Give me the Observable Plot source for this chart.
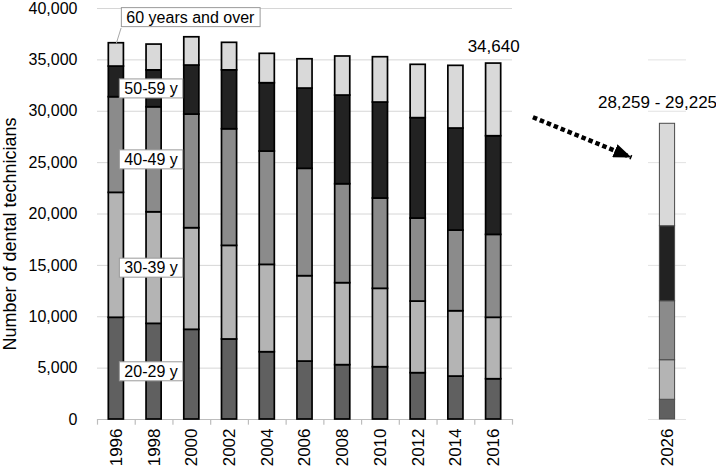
<!DOCTYPE html>
<html><head><meta charset="utf-8">
<script src="https://cdn.jsdelivr.net/npm/d3@7"></script>
<script src="https://cdn.jsdelivr.net/npm/@observablehq/plot@0.6"></script>
<style>
body{margin:0;background:#fff;}
#chart svg{font-family:"Liberation Sans",Arial,sans-serif;}
</style>
</head><body><div id="chart"></div>
<script>
// ---- data ----
const years = [1996, 1998, 2000, 2002, 2004, 2006, 2008, 2010, 2012, 2014, 2016];
const projectionYear = 2026;
const ageGroups = ["20-29 y", "30-39 y", "40-49 y", "50-59 y", "60 years and over"];
const age20to29 = [9900, 9310, 8730, 7790, 6550, 5640, 5290, 5090, 4510, 4180, 3920];
const age30to39 = [12160, 10860, 9890, 9110, 8500, 8310, 7980, 7630, 6970, 6360, 5980];
const age40to49 = [9310, 10220, 11060, 11350, 11030, 10450, 9630, 8790, 8080, 7850, 8070];
const age50to59 = [2980, 3590, 4770, 5730, 6650, 7810, 8630, 9340, 9770, 9930, 9600];
const age60plus = [2270, 2510, 2750, 2680, 2860, 2850, 3800, 4410, 5190, 6100, 7070];
const projection2026 = [1920, 3850, 5740, 7300, 9970];
const projectionLow = 28259;
const projectionHigh = 29225;
const yTicks = [0, 5000, 10000, 15000, 20000, 25000, 30000, 35000, 40000];
const grays = ["#606060", "#b4b4b4", "#8b8b8b", "#222222", "#d9d9d9"];

// ---- derived tables ----
const series = [age20to29, age30to39, age40to49, age50to59, age60plus];
const past = years.flatMap((year, i) => ageGroups.map((age, k) => ({year, age, value: series[k][i]})));
const future = ageGroups.map((age, k) => ({year: projectionYear, age, value: projection2026[k]}));
const totals = years.map((year, i) => ({year, total: d3.sum(series, s => s[i])}));
const lastYear = years[years.length - 1];
const lastTotal = totals[totals.length - 1];
const projTotal = {year: projectionYear, total: d3.sum(projection2026)};
const fmt = d3.format(",");

// label positions: middles of the 1998 segments
let cum = 0;
const ageLabels = ageGroups.slice(0, 4).map((age, k) => {
  const v = series[k][1]; const mid = cum + v / 2; cum += v; return {age, y: mid};
});
const topLabel = [{age: ageGroups[4], y: yTicks[yTicks.length - 1]}];

const half = 0.4;
const pastStart = years[0] - 1, pastEnd = lastYear + 1;
const projStart = projectionYear - 1, projEnd = projectionYear + 1;
const boundaries = years.map(y => y - 1).concat([pastEnd]);

const chart = Plot.plot({
  width: 716, height: 473,
  marginLeft: 97, marginRight: 30, marginTop: 8, marginBottom: 54,
  style: {fontFamily: "Liberation Sans, Arial, sans-serif", fontSize: "16px", color: "#000", background: "#fff"},
  x: {type: "linear", domain: [pastStart, pastEnd, projStart, projEnd], range: [97, 512, 648, 686], axis: null},
  y: {domain: [0, 40000], ticks: yTicks, tickFormat: fmt, tickSize: 0, tickPadding: 20, label: null},
  color: {domain: ageGroups, range: grays},
  marks: [
    Plot.ruleY(yTicks, {x1: () => pastStart, x2: () => pastEnd, stroke: "#d6d6d6", strokeWidth: 1}),
    Plot.ruleY(yTicks.filter(t => t < 40000), {x1: () => projStart, x2: () => projEnd, stroke: "#e2e2e2", strokeWidth: 1}),
    Plot.ruleY([0], {x1: () => pastStart, x2: () => pastEnd, stroke: "#bdbdbd", strokeWidth: 1.2}),
    Plot.ruleX(boundaries, {y1: () => 0, y2: () => -550, stroke: "#bdbdbd", strokeWidth: 1.2}),
    Plot.rectY(past, Plot.stackY({x1: d => d.year - half, x2: d => d.year + half, y: "value", fill: "age", stroke: "#000", strokeWidth: 1.7})),
    Plot.rectY(future, Plot.stackY({x1: d => d.year - half, x2: d => d.year + half, y: "value", fill: "age", stroke: "#4a4a4a", strokeWidth: 1})),
    // x tick labels
    Plot.text(years.concat([projectionYear]), {x: d => d, y: () => 0, text: d => String(d), rotate: -90, textAnchor: "end", dy: 9, fontSize: 17}),
    // y axis title
    Plot.text(["Number of dental technicians"], {frameAnchor: "left", text: d => d, rotate: -90, textAnchor: "middle", dx: -87, dy: 20, fontSize: 18}),
    // leader line for the top label
    Plot.link([totals[0]], {x1: "year", y1: "total", x2: d => d.year + 0.25, y2: () => 38100, stroke: "#a8a8a8", strokeWidth: 1}),
    // age labels
    Plot.text(ageLabels, {x: () => years[0], y: "y", text: "age", textAnchor: "start", dx: 8, fontSize: 16}),
    Plot.text(topLabel, {x: () => years[0], y: "y", text: "age", textAnchor: "start", dx: 10, dy: 9, fontSize: 16}),
    // totals
    Plot.text([lastTotal], {x: "year", y: "total", text: d => fmt(d.total), dy: -17, fontSize: 17}),
    Plot.text([projTotal], {x: "year", y: "total", text: () => `${fmt(projectionLow)} - ${fmt(projectionHigh)}`, dx: -10, dy: -21, fontSize: 17}),
    // dotted arrow
    Plot.link([{from: lastTotal, to: projTotal}], {
      x1: d => d.from.year + 2.2, y1: d => d.from.total - 5220,
      x2: d => d.to.year - 2, y2: d => d.to.total - 3280,
      stroke: "#000", strokeWidth: 4.5, strokeDasharray: "4.5,3"
    })
  ]
});
document.getElementById("chart").appendChild(chart);

// boxes behind the age labels
const svg = d3.select(chart);
const labelSet = new Set(ageGroups);
svg.selectAll("text").filter(function() { return labelSet.has(this.textContent); }).each(function() {
  const b = this.getBBox();
  const padX = 5, padY = 1;
  d3.select(this.parentNode).insert("rect", () => this)
    .attr("x", b.x - padX).attr("y", b.y - padY)
    .attr("width", b.width + 2 * padX).attr("height", b.height + 2 * padY)
    .attr("transform", this.getAttribute("transform"))
    .attr("fill", "#fff").attr("stroke", "#9a9a9a").attr("stroke-width", 1);
});
// filled arrow head
const defs = svg.append("defs");
defs.append("marker").attr("id", "filled-head").attr("viewBox", "0 0 18 14")
  .attr("refX", 18).attr("refY", 7).attr("markerUnits", "userSpaceOnUse")
  .attr("markerWidth", 18).attr("markerHeight", 14).attr("orient", "auto")
  .append("path").attr("d", "M0,0L18,7L0,14Z").attr("fill", "#000");
svg.selectAll("g[stroke-dasharray] path").attr("marker-end", "url(#filled-head)");
</script>
</body></html>
